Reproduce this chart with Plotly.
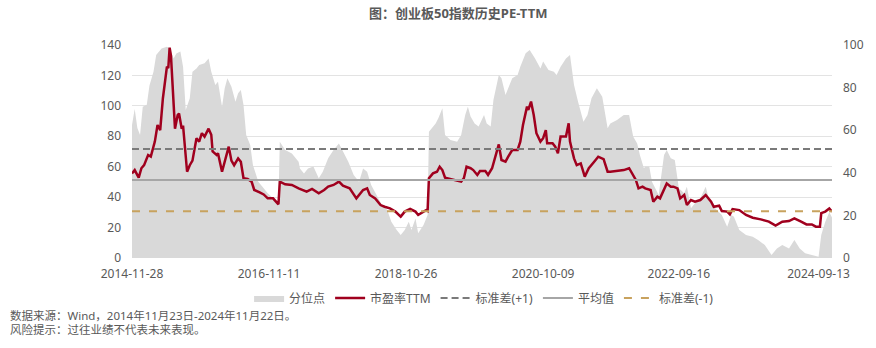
import numpy as np
import pandas as pd
import plotly.graph_objects as go

# Weekly observations, indexed by weeks elapsed since 2014-11-28
START = "2014-11-28"

# ChiNext 50 PE-TTM
pe_week = [0, 2, 5, 7, 9, 12, 14, 17, 19, 21, 23, 26, 27, 28, 29, 32, 34, 35, 37, 38,
           41, 43, 45, 48, 50, 52, 54, 57, 59, 60, 63, 64, 67, 69, 72, 74, 76, 79, 81, 83,
           86, 89, 91, 95, 98, 101, 105, 109, 110, 114, 119, 124, 130, 134, 136, 139, 143, 146,
           150, 152, 154, 157, 162, 167, 170, 172, 175, 177, 181, 185, 188, 192, 196, 200,
           203, 207, 211, 213, 217, 219, 220, 221, 224, 227, 229, 231, 233, 237, 242, 245,
           247, 249, 252, 254, 257, 259, 263, 265, 268, 270, 273, 275, 278, 280, 283, 287,
           289, 291, 294, 295, 297, 299, 301, 304, 306, 308, 309, 313, 315, 317, 319, 323,
           324, 325, 326, 329, 331, 334, 337, 340, 344, 347, 351, 354, 356, 361, 366, 370,
           372, 375, 377, 380, 382, 386, 388, 391, 393, 396, 398, 401, 403, 406, 408, 411,
           413, 416, 419, 423, 427, 431, 433, 437, 439, 443, 445, 447, 452, 457, 462, 468,
           474, 479, 484, 489, 493, 498, 502, 506, 509, 512, 513, 516, 519, 521]
pe_value = [55.6, 57.8, 52.8, 59.0, 61.0, 67.7, 66.6, 76.5, 87.4, 84.0, 105.0, 125.8, 124.7,
            138.3, 133.0, 85.0, 94.0, 95.0, 85.0, 87.0, 56.7, 61.0, 64.0, 78.7, 76.5, 82.0,
            79.8, 85.0, 81.0, 70.0, 67.7, 68.8, 56.7, 64.0, 73.2, 64.0, 61.0, 65.5, 63.3, 52.4,
            52.0, 50.2, 44.7, 43.2, 41.8, 39.2, 39.2, 35.3, 50.2, 48.4, 48.0, 45.8, 43.6, 45.4,
            44.0, 42.5, 44.7, 46.9, 48.0, 49.0, 50.2, 47.5, 45.8, 39.2, 42.5, 44.7, 45.8, 41.4,
            39.2, 34.8, 33.7, 32.6, 30.5, 27.2, 30.5, 32.2, 30.5, 28.3, 30.5, 31.5, 31.0, 52.4,
            55.6, 56.7, 60.0, 57.8, 52.8, 52.0, 51.3, 50.2, 52.4, 60.0, 59.0, 57.8, 54.6, 57.2,
            57.2, 54.6, 59.0, 65.5, 74.7, 64.4, 63.3, 66.6, 71.0, 71.0, 76.5, 87.4, 99.5, 97.3,
            102.8, 94.0, 82.0, 76.5, 78.7, 84.0, 75.4, 75.4, 73.2, 68.8, 79.8, 79.8, 84.0, 88.5,
            76.5, 65.5, 61.0, 62.2, 53.5, 59.0, 63.3, 66.6, 65.0, 56.7, 56.7, 57.2, 57.8, 59.0,
            55.6, 51.3, 45.8, 46.9, 45.8, 44.7, 37.0, 40.3, 39.2, 45.8, 49.0, 46.9, 46.9, 45.8,
            39.2, 41.4, 34.8, 38.1, 37.0, 38.1, 41.4, 37.0, 33.7, 34.4, 30.9, 30.5, 28.7, 32.2,
            31.5, 28.3, 26.5, 25.4, 23.9, 21.3, 23.9, 24.3, 26.1, 23.9, 22.1, 22.1, 20.6, 20.6,
            29.5, 30.5, 32.5, 30.5]

# Historical percentile of PE-TTM (%)
pct_week = [0, 2, 4, 6, 8, 11, 13, 16, 18, 22, 26, 28, 31, 33, 36, 38, 40, 43, 45, 48, 50,
            54, 57, 59, 62, 64, 67, 69, 71, 74, 77, 79, 81, 83, 85, 88, 90, 94, 98, 101, 105,
            109, 110, 114, 119, 124, 125, 128, 131, 135, 139, 142, 146, 150, 154, 157, 161,
            165, 169, 172, 175, 178, 182, 186, 190, 193, 197, 200, 203, 206, 208, 211, 213,
            217, 220, 221, 226, 228, 231, 233, 237, 242, 245, 248, 250, 252, 255, 258, 262,
            264, 267, 269, 273, 275, 278, 280, 283, 287, 289, 293, 296, 300, 304, 306, 310,
            314, 316, 319, 323, 326, 329, 332, 336, 339, 342, 346, 350, 354, 356, 361, 366,
            370, 373, 376, 378, 381, 382, 385, 387, 392, 396, 398, 401, 404, 407, 411, 413,
            416, 419, 423, 427, 430, 434, 439, 443, 446, 448, 452, 457, 462, 466, 471, 476,
            480, 484, 489, 493, 497, 501, 506, 511, 513, 516, 519, 521]
pct_value = [62.4, 70.0, 61.0, 57.7, 71.0, 72.0, 81.0, 87.5, 95.3, 98.4, 99.2, 98.4, 93.7,
             96.0, 96.9, 89.8, 69.5, 75.0, 87.5, 89.0, 90.6, 91.4, 93.7, 87.5, 81.2, 82.8,
             71.0, 79.7, 84.4, 80.4, 73.4, 77.3, 78.9, 71.8, 57.7, 53.0, 43.7, 35.8, 32.7,
             30.4, 28.0, 26.4, 54.6, 50.7, 49.1, 45.2, 42.0, 39.7, 42.0, 42.9, 37.4, 40.5,
             46.8, 50.7, 53.8, 49.9, 45.2, 39.0, 35.8, 42.0, 40.5, 34.3, 29.6, 24.9, 22.5,
             17.0, 13.1, 10.8, 13.1, 17.0, 13.1, 18.6, 11.6, 15.5, 20.2, 59.3, 63.2, 65.6,
             70.3, 57.7, 55.4, 54.6, 57.7, 67.1, 71.0, 66.4, 63.2, 61.7, 67.1, 63.2, 61.7,
             74.2, 85.9, 84.4, 76.5, 79.7, 84.4, 85.9, 89.8, 96.1, 97.7, 93.7, 89.0, 92.2,
             88.3, 87.5, 85.9, 89.8, 93.7, 95.3, 81.2, 73.4, 64.0, 67.1, 75.0, 79.7, 75.7,
             60.9, 63.2, 64.8, 67.1, 67.1, 57.0, 53.8, 48.4, 42.1, 42.9, 42.9, 35.8, 29.6,
             48.4, 50.7, 46.8, 46.0, 32.7, 30.4, 33.5, 23.3, 25.7, 28.0, 33.5, 26.4, 23.3,
             20.2, 14.7, 20.2, 19.4, 13.1, 10.8, 10.0, 8.5, 6.1, 1.4, 4.5, 6.1, 4.5, 8.5,
             4.5, 2.2, 1.4, 0.6, 10.8, 17.0, 21.5, 19.0]

# Summary statistics of PE-TTM over the period
pe_mean = 51.2
pe_std = 20.4

tick_labels = ["2014-11-28", "2016-11-11", "2018-10-26", "2020-10-09", "2022-09-16", "2024-09-13"]
END = "2024-11-22"


def week_dates(weeks):
    return pd.Timestamp(START) + pd.to_timedelta(np.asarray(weeks) * 7, unit="D")


pe_dates = week_dates(pe_week)
pct_dates = week_dates(pct_week)
span = [pd.Timestamp(START), pd.Timestamp(END)]

FONT = "Noto Sans, Noto Sans CJK SC, sans-serif"
TXT = "#595959"

fig = go.Figure()

fig.add_trace(go.Scatter(
    x=pct_dates, y=pct_value, name="分位点", mode="lines",
    line=dict(width=0, color="#d9d9d9"), fill="tozeroy", fillcolor="#d9d9d9",
    yaxis="y", hoverinfo="skip"))

fig.add_trace(go.Scatter(
    x=pe_dates, y=pe_value, name="市盈率TTM", mode="lines",
    line=dict(width=2.5, color="#a0001e"), yaxis="y2"))

fig.add_trace(go.Scatter(
    x=span, y=[pe_mean + pe_std] * 2, name="标准差(+1)", mode="lines",
    line=dict(width=2, color="#7a7a7a", dash="7px,4px"), yaxis="y2"))

fig.add_trace(go.Scatter(
    x=span, y=[pe_mean] * 2, name="平均值", mode="lines",
    line=dict(width=2, color="#a6a6a6"), yaxis="y2"))

fig.add_trace(go.Scatter(
    x=span, y=[pe_mean - pe_std] * 2, name="标准差(-1)", mode="lines",
    line=dict(width=2, color="#c8a25e", dash="8px,9px"), yaxis="y2"))

fig.update_layout(
    width=876, height=348,
    margin=dict(l=132, r=44, t=45, b=90),
    paper_bgcolor="white", plot_bgcolor="white",
    font=dict(family=FONT, size=12, color=TXT),
    title=dict(text="<b>图：创业板50指数历史PE-TTM</b>", x=0.466, xref="paper",
               xanchor="center", y=1 - 13 / 348, yref="container", yanchor="middle",
               font=dict(size=13, color=TXT)),
    xaxis=dict(type="date", range=span, tickvals=tick_labels, ticktext=tick_labels,
               showgrid=False, zeroline=False, showline=False, ticks="",
               ticklabelstandoff=7, tickfont=dict(size=12, color=TXT)),
    yaxis=dict(side="right", range=[0, 100], dtick=20, showgrid=False, zeroline=False,
               showline=False, ticks="", ticklabelstandoff=10,
               tickfont=dict(size=12, color=TXT)),
    yaxis2=dict(side="left", overlaying="y", range=[0, 140], dtick=20, showgrid=True,
                gridcolor="#e3e3e3", gridwidth=1, zeroline=False, showline=False,
                ticks="", ticklabelstandoff=10, tickfont=dict(size=12, color=TXT)),
    legend=dict(orientation="h", x=0.503, xanchor="center", y=-0.188, yanchor="middle",
                font=dict(size=12, color=TXT), bgcolor="rgba(0,0,0,0)",
                itemwidth=30, tracegroupgap=0),
    showlegend=True,
    annotations=[
        dict(text="数据来源：Wind，2014年11月23日-2024年11月22日。", xref="paper", yref="paper",
             x=-0.177, y=(258 - 315) / 213, xanchor="left", yanchor="middle",
             showarrow=False, font=dict(size=11.5, color=TXT)),
        dict(text="风险提示：过往业绩不代表未来表现。", xref="paper", yref="paper",
             x=-0.177, y=(258 - 329) / 213, xanchor="left", yanchor="middle",
             showarrow=False, font=dict(size=11.5, color=TXT)),
    ],
)

fig.write_html("out.html")
